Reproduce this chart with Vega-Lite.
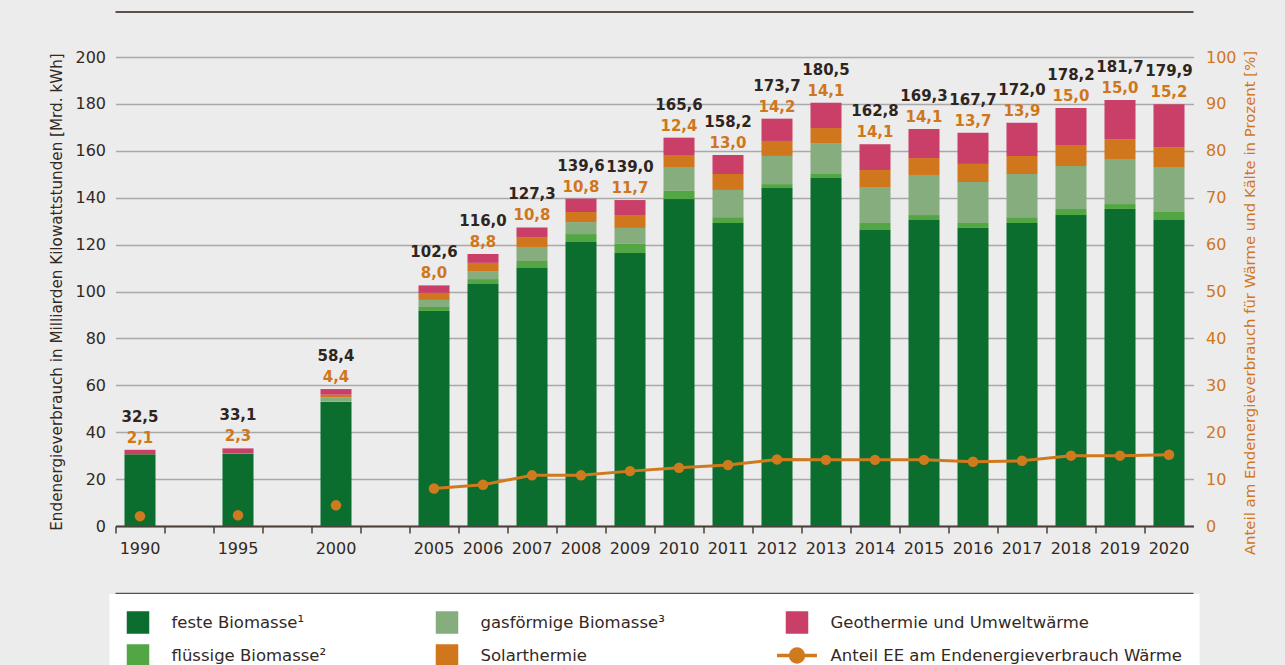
{
  "$schema": "https://vega.github.io/schema/vega-lite/v6.json",
  "width": 1078,
  "height": 469,
  "autosize": "none",
  "padding": {"left": 115.5, "top": 57, "right": 91.5, "bottom": 139},
  "background": "#ececec",
  "config": {
    "view": {"stroke": null},
    "font": "DejaVu Sans",
    "locale": {"number": {"decimal": ",", "thousands": ".", "grouping": [3], "currency": ["", " €"]}}
  },
  "datasets": {
    "bars": [
      {"year": "1990", "category": "feste Biomasse¹", "value": 30.6},
      {"year": "1990", "category": "flüssige Biomasse²", "value": 0},
      {"year": "1990", "category": "gasförmige Biomasse³", "value": 0},
      {"year": "1990", "category": "Solarthermie", "value": 0.1},
      {"year": "1990", "category": "Geothermie und Umweltwärme", "value": 1.8},
      {"year": "1995", "category": "feste Biomasse¹", "value": 30.7},
      {"year": "1995", "category": "flüssige Biomasse²", "value": 0},
      {"year": "1995", "category": "gasförmige Biomasse³", "value": 0},
      {"year": "1995", "category": "Solarthermie", "value": 0.2},
      {"year": "1995", "category": "Geothermie und Umweltwärme", "value": 2.2},
      {"year": "2000", "category": "feste Biomasse¹", "value": 52.9},
      {"year": "2000", "category": "flüssige Biomasse²", "value": 0.2},
      {"year": "2000", "category": "gasförmige Biomasse³", "value": 1.7},
      {"year": "2000", "category": "Solarthermie", "value": 1.2},
      {"year": "2000", "category": "Geothermie und Umweltwärme", "value": 2.4},
      {"year": "2005", "category": "feste Biomasse¹", "value": 91.7},
      {"year": "2005", "category": "flüssige Biomasse²", "value": 1.7},
      {"year": "2005", "category": "gasförmige Biomasse³", "value": 3.0},
      {"year": "2005", "category": "Solarthermie", "value": 3.0},
      {"year": "2005", "category": "Geothermie und Umweltwärme", "value": 3.2},
      {"year": "2006", "category": "feste Biomasse¹", "value": 103.2},
      {"year": "2006", "category": "flüssige Biomasse²", "value": 2.1},
      {"year": "2006", "category": "gasförmige Biomasse³", "value": 3.4},
      {"year": "2006", "category": "Solarthermie", "value": 3.5},
      {"year": "2006", "category": "Geothermie und Umweltwärme", "value": 3.8},
      {"year": "2007", "category": "feste Biomasse¹", "value": 110.0},
      {"year": "2007", "category": "flüssige Biomasse²", "value": 3.0},
      {"year": "2007", "category": "gasförmige Biomasse³", "value": 6.0},
      {"year": "2007", "category": "Solarthermie", "value": 4.2},
      {"year": "2007", "category": "Geothermie und Umweltwärme", "value": 4.1},
      {"year": "2008", "category": "feste Biomasse¹", "value": 121.1},
      {"year": "2008", "category": "flüssige Biomasse²", "value": 3.4},
      {"year": "2008", "category": "gasförmige Biomasse³", "value": 5.1},
      {"year": "2008", "category": "Solarthermie", "value": 4.3},
      {"year": "2008", "category": "Geothermie und Umweltwärme", "value": 5.7},
      {"year": "2009", "category": "feste Biomasse¹", "value": 116.4},
      {"year": "2009", "category": "flüssige Biomasse²", "value": 3.9},
      {"year": "2009", "category": "gasförmige Biomasse³", "value": 6.8},
      {"year": "2009", "category": "Solarthermie", "value": 5.5},
      {"year": "2009", "category": "Geothermie und Umweltwärme", "value": 6.4},
      {"year": "2010", "category": "feste Biomasse¹", "value": 139.4},
      {"year": "2010", "category": "flüssige Biomasse²", "value": 3.5},
      {"year": "2010", "category": "gasförmige Biomasse³", "value": 10.2},
      {"year": "2010", "category": "Solarthermie", "value": 5.1},
      {"year": "2010", "category": "Geothermie und Umweltwärme", "value": 7.4},
      {"year": "2011", "category": "feste Biomasse¹", "value": 129.2},
      {"year": "2011", "category": "flüssige Biomasse²", "value": 2.5},
      {"year": "2011", "category": "gasförmige Biomasse³", "value": 11.6},
      {"year": "2011", "category": "Solarthermie", "value": 6.8},
      {"year": "2011", "category": "Geothermie und Umweltwärme", "value": 8.1},
      {"year": "2012", "category": "feste Biomasse¹", "value": 144.1},
      {"year": "2012", "category": "flüssige Biomasse²", "value": 1.7},
      {"year": "2012", "category": "gasförmige Biomasse³", "value": 12.0},
      {"year": "2012", "category": "Solarthermie", "value": 6.4},
      {"year": "2012", "category": "Geothermie und Umweltwärme", "value": 9.5},
      {"year": "2013", "category": "feste Biomasse¹", "value": 148.4},
      {"year": "2013", "category": "flüssige Biomasse²", "value": 1.7},
      {"year": "2013", "category": "gasförmige Biomasse³", "value": 13.2},
      {"year": "2013", "category": "Solarthermie", "value": 6.4},
      {"year": "2013", "category": "Geothermie und Umweltwärme", "value": 10.8},
      {"year": "2014", "category": "feste Biomasse¹", "value": 126.2},
      {"year": "2014", "category": "flüssige Biomasse²", "value": 3.0},
      {"year": "2014", "category": "gasförmige Biomasse³", "value": 15.1},
      {"year": "2014", "category": "Solarthermie", "value": 7.5},
      {"year": "2014", "category": "Geothermie und Umweltwärme", "value": 11.0},
      {"year": "2015", "category": "feste Biomasse¹", "value": 130.5},
      {"year": "2015", "category": "flüssige Biomasse²", "value": 2.1},
      {"year": "2015", "category": "gasförmige Biomasse³", "value": 17.1},
      {"year": "2015", "category": "Solarthermie", "value": 7.2},
      {"year": "2015", "category": "Geothermie und Umweltwärme", "value": 12.4},
      {"year": "2016", "category": "feste Biomasse¹", "value": 127.1},
      {"year": "2016", "category": "flüssige Biomasse²", "value": 2.1},
      {"year": "2016", "category": "gasförmige Biomasse³", "value": 17.5},
      {"year": "2016", "category": "Solarthermie", "value": 7.7},
      {"year": "2016", "category": "Geothermie und Umweltwärme", "value": 13.3},
      {"year": "2017", "category": "feste Biomasse¹", "value": 129.2},
      {"year": "2017", "category": "flüssige Biomasse²", "value": 2.5},
      {"year": "2017", "category": "gasförmige Biomasse³", "value": 18.4},
      {"year": "2017", "category": "Solarthermie", "value": 7.7},
      {"year": "2017", "category": "Geothermie und Umweltwärme", "value": 14.2},
      {"year": "2018", "category": "feste Biomasse¹", "value": 132.6},
      {"year": "2018", "category": "flüssige Biomasse²", "value": 2.6},
      {"year": "2018", "category": "gasförmige Biomasse³", "value": 18.3},
      {"year": "2018", "category": "Solarthermie", "value": 9.0},
      {"year": "2018", "category": "Geothermie und Umweltwärme", "value": 15.7},
      {"year": "2019", "category": "feste Biomasse¹", "value": 135.2},
      {"year": "2019", "category": "flüssige Biomasse²", "value": 2.1},
      {"year": "2019", "category": "gasförmige Biomasse³", "value": 19.2},
      {"year": "2019", "category": "Solarthermie", "value": 8.5},
      {"year": "2019", "category": "Geothermie und Umweltwärme", "value": 16.7},
      {"year": "2020", "category": "feste Biomasse¹", "value": 130.5},
      {"year": "2020", "category": "flüssige Biomasse²", "value": 3.4},
      {"year": "2020", "category": "gasförmige Biomasse³", "value": 19.2},
      {"year": "2020", "category": "Solarthermie", "value": 8.5},
      {"year": "2020", "category": "Geothermie und Umweltwärme", "value": 18.3}
    ],
    "years": [
      {"year": "1990", "total": 32.5, "share": 2.1},
      {"year": "1995", "total": 33.1, "share": 2.3},
      {"year": "2000", "total": 58.4, "share": 4.4},
      {"year": "2005", "total": 102.6, "share": 8.0},
      {"year": "2006", "total": 116.0, "share": 8.8},
      {"year": "2007", "total": 127.3, "share": 10.8},
      {"year": "2008", "total": 139.6, "share": 10.8},
      {"year": "2009", "total": 139.0, "share": 11.7},
      {"year": "2010", "total": 165.6, "share": 12.4},
      {"year": "2011", "total": 158.2, "share": 13.0},
      {"year": "2012", "total": 173.7, "share": 14.2},
      {"year": "2013", "total": 180.5, "share": 14.1},
      {"year": "2014", "total": 162.8, "share": 14.1},
      {"year": "2015", "total": 169.3, "share": 14.1},
      {"year": "2016", "total": 167.7, "share": 13.7},
      {"year": "2017", "total": 172.0, "share": 13.9},
      {"year": "2018", "total": 178.2, "share": 15.0},
      {"year": "2019", "total": 181.7, "share": 15.0},
      {"year": "2020", "total": 179.9, "share": 15.2}
    ]
  },
  "layer": [
    {
      "layer": [
        {
          "data": {"name": "bars"},
          "transform": [
            {"calculate": "indexof(['feste Biomasse¹','flüssige Biomasse²','gasförmige Biomasse³','Solarthermie','Geothermie und Umweltwärme'], datum.category)", "as": "stackOrder"}
          ],
          "mark": {"type": "bar", "width": {"band": 0.633}},
          "encoding": {
            "x": {
              "field": "year", "type": "nominal",
              "scale": {"domain": ["1990", "g1", "1995", "g2", "2000", "g3", "2005", "2006", "2007", "2008", "2009", "2010", "2011", "2012", "2013", "2014", "2015", "2016", "2017", "2018", "2019", "2020"], "paddingInner": 0, "paddingOuter": 0},
              "axis": {
                "title": null, "grid": false, "labelAngle": 0,
                "domain": true, "domainColor": "#4a4039", "domainWidth": 2,
                "ticks": true, "tickColor": "#4a4039", "tickWidth": 1.5, "tickSize": 7, "bandPosition": 0,
                "labelFont": "DejaVu Sans", "labelFontSize": 16, "labelColor": "#33291f", "labelPadding": 7,
                "labelExpr": "length(datum.label) > 2 ? datum.label : ''"
              }
            },
            "y": {
              "field": "value", "type": "quantitative", "stack": "zero",
              "scale": {"domain": [0, 200], "nice": false},
              "axis": {
                "title": "Endenergieverbrauch in Milliarden Kilowattstunden [Mrd. kWh]",
                "values": [0, 20, 40, 60, 80, 100, 120, 140, 160, 180, 200],
                "grid": true, "gridColor": "#a9a9a9", "gridWidth": 1.5,
                "domain": false, "ticks": false,
                "labelFont": "DejaVu Sans", "labelFontSize": 16, "labelColor": "#33291f", "labelPadding": 10,
                "titleFont": "DejaVu Sans", "titleFontSize": 15.2, "titleFontWeight": "normal", "titleColor": "#33291f", "titlePadding": 10
              }
            },
            "order": {"field": "stackOrder", "type": "quantitative", "sort": "ascending"},
            "color": {
              "field": "category", "type": "nominal",
              "scale": {
                "domain": ["feste Biomasse¹", "gasförmige Biomasse³", "Geothermie und Umweltwärme", "flüssige Biomasse²", "Solarthermie", "Anteil EE am Endenergieverbrauch Wärme"],
                "range": ["#0b6e2f", "#86ad7d", "#c93f68", "#52a744", "#d0761c", "#d07a1e"]
              },
              "legend": {
                "title": null, "orient": "none", "legendX": -6, "legendY": 537,
                "direction": "horizontal", "columns": 3, "columnPadding": 104, "rowPadding": 0,
                "padding": 17, "fillColor": "#ffffff",
                "symbolType": "square", "symbolSize": 361, "symbolStrokeWidth": 0,
                "labelFont": "DejaVu Sans", "labelFontSize": 16.5, "labelColor": "#33291f", "labelOffset": 22, "labelLimit": 500,
                "encode": {
                  "symbols": {
                    "update": {
                      "shape": {"signal": "datum.value === 'Anteil EE am Endenergieverbrauch Wärme' ? 'M-2.1,0H2.1M0.68,0A0.68,0.68,0,1,1,-0.68,0A0.68,0.68,0,1,1,0.68,0Z' : 'square'"},
                      "stroke": {"signal": "datum.value === 'Anteil EE am Endenergieverbrauch Wärme' ? '#d07a1e' : 'transparent'"},
                      "strokeWidth": {"value": 3.5},
                      "opacity": {"value": 1}
                    }
                  }
                }
              }
            }
          }
        },
        {
          "data": {"values": [{"frame": "top"}]},
          "mark": {"type": "rule", "color": "#5b504a", "strokeWidth": 2},
          "encoding": {"y": {"datum": 219.2, "type": "quantitative"}}
        },
        {
          "data": {"values": [{"frame": "bottom"}]},
          "mark": {"type": "rule", "color": "#5b504a", "strokeWidth": 2.5},
          "encoding": {"y": {"datum": -29, "type": "quantitative"}}
        },
        {
          "data": {"name": "years"},
          "mark": {"type": "text", "font": "DejaVu Sans", "fontWeight": "bold", "fontSize": 15, "color": "#2e2520", "baseline": "alphabetic", "align": "center", "dy": -28},
          "encoding": {
            "x": {"field": "year", "type": "nominal"},
            "y": {"field": "total", "type": "quantitative"},
            "text": {"field": "total", "type": "quantitative", "format": ".1f"}
          }
        },
        {
          "data": {"name": "years"},
          "mark": {"type": "text", "font": "DejaVu Sans", "fontWeight": "bold", "fontSize": 15, "color": "#d0761c", "baseline": "alphabetic", "align": "center", "dy": -7},
          "encoding": {
            "x": {"field": "year", "type": "nominal"},
            "y": {"field": "total", "type": "quantitative"},
            "text": {"field": "share", "type": "quantitative", "format": ".1f"}
          }
        }
      ]
    },
    {
      "layer": [
        {
          "data": {"name": "years"},
          "transform": [{"filter": "toNumber(datum.year) >= 2005"}],
          "mark": {"type": "line", "strokeWidth": 3},
          "encoding": {
            "x": {"field": "year", "type": "nominal"},
            "y": {
              "field": "share", "type": "quantitative",
              "scale": {"domain": [0, 100], "nice": false},
              "axis": {
                "orient": "right",
                "title": "Anteil am Endenergieverbrauch für Wärme und Kälte in Prozent [%]",
                "values": [0, 10, 20, 30, 40, 50, 60, 70, 80, 90, 100],
                "grid": false, "domain": false, "ticks": false,
                "labelFont": "DejaVu Sans", "labelFontSize": 16, "labelColor": "#d0761c", "labelPadding": 12,
                "titleFont": "DejaVu Sans", "titleFontSize": 14.9, "titleFontWeight": "normal", "titleColor": "#d0761c",
                "titlePadding": 6, "titleAngle": 270, "titleBaseline": "top", "titleY": 245.5
              }
            },
            "color": {"datum": "Anteil EE am Endenergieverbrauch Wärme"}
          }
        },
        {
          "data": {"name": "years"},
          "mark": {"type": "point", "filled": true, "size": 110, "opacity": 1},
          "encoding": {
            "x": {"field": "year", "type": "nominal"},
            "y": {"field": "share", "type": "quantitative"},
            "color": {"datum": "Anteil EE am Endenergieverbrauch Wärme"}
          }
        }
      ]
    }
  ],
  "resolve": {"scale": {"y": "independent"}}
}
